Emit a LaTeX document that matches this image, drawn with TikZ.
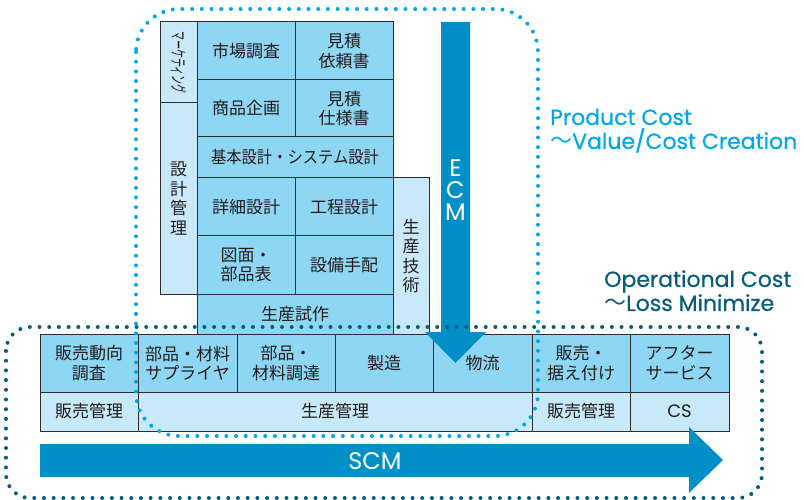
\documentclass[tikz,border=0pt]{standalone}
\usepackage{fontspec}
\usepackage{graphicx}
\setmainfont{Noto Sans CJK JP}
\newfontfamily\eng{Poppins}[FakeBold=0.6]
\newfontfamily\engl{Poppins}
\newfontfamily\jpn{Noto Sans CJK JP}
\definecolor{med}{RGB}{141,215,245}
\definecolor{lite}{RGB}{199,233,249}
\definecolor{arrowc}{RGB}{0,144,199}
\definecolor{cyandot}{RGB}{0,168,232}
\definecolor{tealdot}{RGB}{8,94,122}
\definecolor{ink}{RGB}{35,28,26}
\definecolor{bord}{RGB}{45,45,45}
\newcommand\jpf{\fontsize{17}{19.5}\selectfont}
\newcommand\stk{\fontsize{17}{18.5}\selectfont}
\newcommand\wavedash{\smash{\jpn 〜}}
\newcommand\cellbox[7]{\node[cell, fill=#6, minimum width={(#4-#2)*1pt}, minimum height={(#5-#3)*1pt}] (#1) at ({(#2+#4)/2},{(#3+#5)/2}) {#7};}
\begin{document}
\begin{tikzpicture}[x=1pt,y=-1pt,
  cell/.style={draw=bord, line width=1pt, inner sep=0pt, outer sep=0pt, text=ink, align=center, font=\jpf},
  dotline/.style={line width=4pt, dash pattern=on 0pt off 9.7pt, line cap=round},
  eng/.style={inner sep=0pt, anchor=north west, align=left, font=\eng\fontsize{22}{23.5}\selectfont},
  bigarrow/.style={fill=arrowc, draw=none}]
\fill[white] (0,0) rectangle (804,500);
\useasboundingbox (0,0) rectangle (804,500);
% upper block
\cellbox{mkt}{160}{22}{197}{103}{lite}{\rotatebox{-90}{\fontsize{17}{17}\selectfont\scalebox{0.53}[1]{マーケティング}}}
\cellbox{skk}{160}{103}{197}{294}{lite}{\stk 設\\計\\管\\理}
\cellbox{gjt}{393}{178}{429}{334}{lite}{\stk 生\\産\\技\\術}
\cellbox{shj}{197}{22}{295}{80}{med}{市場調査}
\cellbox{mt1}{295}{22}{393}{80}{med}{見積\\依頼書}
\cellbox{shk}{197}{80}{295}{137}{med}{商品企画}
\cellbox{mt2}{295}{80}{393}{137}{med}{見積\\仕様書}
\cellbox{khn}{197}{137}{393}{178}{med}{\scalebox{0.9}[1]{基本設計・システム設計}}
\cellbox{shs}{197}{178}{295}{236}{med}{詳細設計}
\cellbox{ktk}{295}{178}{393}{236}{med}{工程設計}
\cellbox{zmn}{197}{236}{295}{294}{med}{図面・\\部品表}
\cellbox{stb}{295}{236}{393}{294}{med}{設備手配}
\cellbox{ssk}{197}{294}{393}{334}{med}{生産試作}
% lower rows
\cellbox{hd}{40}{334}{138}{392}{med}{販売動向\\調査}
\cellbox{bs}{138}{334}{237}{392}{med}{部品・材料\\サプライヤ}
\cellbox{bc}{237}{334}{335}{392}{med}{部品・\\材料調達}
\cellbox{sz}{335}{334}{433}{392}{med}{製造}
\cellbox{br}{433}{334}{532}{392}{med}{物流}
\cellbox{hs}{532}{334}{630}{392}{med}{販売・\\据え付け}
\cellbox{as}{630}{334}{729}{392}{med}{アフター\\サービス}
\cellbox{hk1}{40}{392}{138}{431}{lite}{販売管理}
\cellbox{sk}{138}{392}{532}{431}{lite}{生産管理}
\cellbox{hk2}{532}{392}{630}{431}{lite}{販売管理}
\cellbox{cs}{630}{392}{729}{431}{lite}{{\engl\fontsize{18}{18}\selectfont CS}}
% ECM arrow
\fill[bigarrow] (441,22) -- (470,22) -- (470,332) -- (486,332) -- (455.5,363) -- (425,332) -- (441,332) -- cycle;
\node[text=white, align=center, inner sep=0pt, font=\engl\fontsize{24}{22}\selectfont] (ecm) at (455.5,190) {E\\C\\M};
% SCM arrow
\fill[bigarrow] (40,444) -- (689,444) -- (689,427) -- (723,460) -- (689,493) -- (689,477) -- (40,477) -- cycle;
\node[text=white, inner sep=0pt, font=\engl\fontsize{24}{24}\selectfont] (scm) at (375,461) {SCM};
% dotted outlines
\draw[dotline, tealdot, rounded corners=24pt] (6,327) rectangle (762,498);
\draw[dotline, cyandot, rounded corners=43pt] (136,9) rectangle (538,436);
% labels
\node[eng, text=cyandot, font=\eng\fontsize{22}{24}\selectfont] (pc) at (550,108.5) {Product Cost\\\wavedash Value/Cost Creation};
\node[eng, text=tealdot, font=\eng\fontsize{22}{24}\selectfont] (oc) at (604,270) {Operational Cost\\\wavedash Loss Minimize};
\end{tikzpicture}
\end{document}
